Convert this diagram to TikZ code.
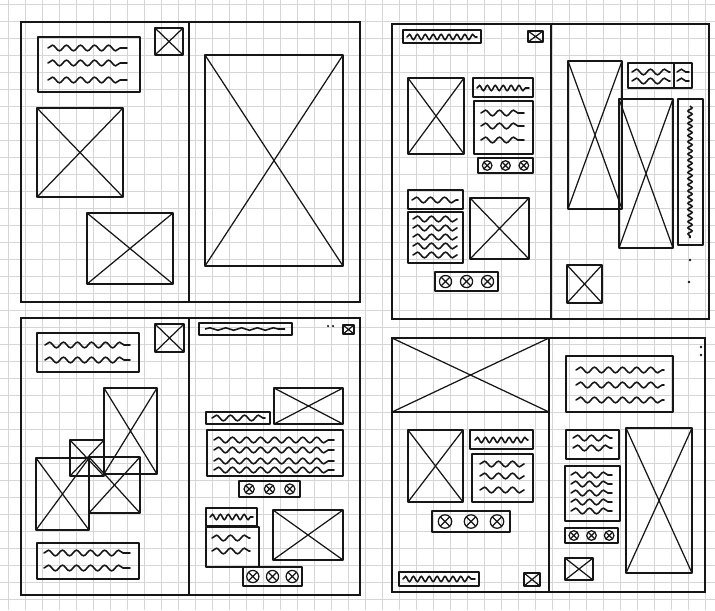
\documentclass[tikz,border=0pt]{standalone}
\usepackage{tikz}
\usetikzlibrary{decorations.pathmorphing}
\definecolor{ink}{HTML}{161616}
\definecolor{paperline}{HTML}{d6d6d6}

\tikzset{
  page/.style={ink, line width=1.3pt},
  frame/.style={ink, line width=1.3pt, line join=round},
  cross/.style={ink, line width=0.7pt},
  scribble/.style={ink, line width=0.9pt, line cap=round, decorate,
                   decoration={snake, amplitude=1.6pt, segment length=8pt}},
  handwrite/.style={ink, line width=0.9pt, line cap=round, decorate,
                   decoration={snake, amplitude=1.5pt, segment length=4.5pt}},
  gridline/.style={paperline, line width=0.5pt}
}

% image placeholder: box with diagonals
\newcommand{\imgbox}[4]{%
  \draw[frame] (#1,#2) rectangle (#3,#4);
  \draw[cross] (#1,#2) -- (#3,#4) (#1,#4) -- (#3,#2);}
% bar with three round buttons
\newcommand{\btnbar}[4]{%
  \draw[frame] (#1,#2) rectangle (#3,#4);
  \foreach \k in {1,3,5} {
    \pgfmathsetmacro{\cx}{#1+(#3-#1)*\k/6}
    \pgfmathsetmacro{\cy}{(#2+#4)/2}
    \pgfmathsetmacro{\rr}{(#4-#2)*0.32}
    \pgfmathsetmacro{\dd}{\rr*0.7}
    \draw[cross] (\cx,\cy) circle[radius=\rr];
    \draw[cross] (\cx-\dd,\cy-\dd) -- (\cx+\dd,\cy+\dd) (\cx-\dd,\cy+\dd) -- (\cx+\dd,\cy-\dd);
  }}

\begin{document}
\begin{tikzpicture}[x=0.02cm, y=-0.02cm]
  \useasboundingbox (0,0) rectangle (715,610);
  \fill[white] (0,0) rectangle (715,610);

  % Grid paper
  \foreach \gx in {8,25,...,715} \draw[gridline] (\gx,0) -- (\gx,610);
  \foreach \gy in {4,21,...,610} \draw[gridline] (0,\gy) -- (715,\gy);

  % ---- Spread 1 (top left)
  \draw[page] (21,22) rectangle (360,302);
  \draw[page] (189,22) -- (189,302);
  \draw[frame] (38,37) rectangle (140,92);
  \foreach \y in {48,63,80} \draw[scribble] (48,\y) -- (127,\y);
  \imgbox{155}{28}{183}{55}
  \imgbox{37}{108}{123}{197}
  \imgbox{87}{213}{173}{284}
  \imgbox{205}{55}{343}{266}

  % ---- Spread 2 (top right)
  \draw[page] (392,24) rectangle (709,319);
  \draw[page] (551,24) -- (551,319);
  \draw[frame] (403,30) rectangle (481,43);
  \draw[handwrite] (407,37) -- (477,37);
  \imgbox{528}{31}{543}{42}
  \imgbox{408}{78}{464}{154}
  \draw[frame] (473,78) rectangle (533,97);
  \draw[handwrite] (477,88) -- (529,88);
  \draw[frame] (474,101) rectangle (533,154);
  \foreach \y in {113,126,140} \draw[scribble] (481,\y) -- (524,\y);
  \btnbar{478}{158}{533}{173}
  \draw[frame] (408,190) rectangle (463,209);
  \draw[scribble] (412,200) -- (458,200);
  \draw[frame] (408,212) rectangle (463,263);
  \foreach \y in {219,228,237,246,255} \draw[scribble] (413,\y) -- (457,\y);
  \imgbox{470}{198}{529}{259}
  \btnbar{435}{272}{498}{291}
  % right page
  \imgbox{568}{61}{622}{209}
  \draw[frame] (628,63) rectangle (692,88);
  \draw[frame] (674,63) -- (674,88);
  \foreach \y in {72,81} {
    \draw[scribble] (632,\y) -- (670,\y);
    \draw[scribble] (677,\y) -- (689,\y);
  }
  \imgbox{619}{99}{673}{248}
  \draw[frame] (678,99) rectangle (703,245);
  \draw[ink, line width=0.9pt, decorate, decoration={snake, amplitude=1.2pt, segment length=3.5pt}] (690,106) -- (690,238);
  \imgbox{567}{265}{602}{303}
  \fill[ink] (690,260) circle[radius=0.8pt] (689,282) circle[radius=0.8pt];

  % ---- Spread 3 (bottom left)
  \draw[page] (21,318) rectangle (360,595);
  \draw[page] (189,318) -- (189,595);
  \draw[frame] (37,333) rectangle (139,372);
  \foreach \y in {345,360} \draw[scribble] (45,\y) -- (130,\y);
  \imgbox{155}{324}{184}{352}
  \imgbox{104}{388}{157}{474}
  \imgbox{70}{440}{104}{476}
  \imgbox{89}{457}{140}{513}
  \imgbox{36}{458}{89}{530}
  \draw[frame] (37,543) rectangle (139,579);
  \foreach \y in {553,568} \draw[scribble] (44,\y) -- (130,\y);
  % right page
  \draw[frame] (199,323) rectangle (292,335);
  \draw[ink, line width=0.9pt, decorate, decoration={snake, amplitude=0.7pt, segment length=9pt}] (205,329) -- (285,329);
  \imgbox{343}{325}{354}{334}
  \fill[ink] (328,326) circle[radius=0.7pt] (333,326) circle[radius=0.7pt];
  \draw[frame] (206,412) rectangle (270,424);
  \draw[scribble] (212,418) -- (265,418);
  \imgbox{274}{388}{343}{424}
  \draw[frame] (207,430) rectangle (343,476);
  \foreach \y in {440,450,461,470} \draw[scribble] (214,\y) -- (334,\y);
  \btnbar{239}{481}{300}{497}
  \draw[frame] (206,508) rectangle (257,526);
  \draw[handwrite] (210,517) -- (253,517);
  \draw[frame] (206,527) rectangle (259,567);
  \foreach \y in {538,551} \draw[scribble] (212,\y) -- (250,\y);
  \imgbox{273}{510}{343}{560}
  \btnbar{243}{567}{302}{586}

  % ---- Spread 4 (bottom right)
  \draw[page] (392,338) rectangle (705,592);
  \draw[page] (549,338) -- (549,592);
  \imgbox{392}{338}{549}{412}
  \imgbox{408}{430}{463}{502}
  \draw[frame] (470,430) rectangle (533,449);
  \draw[handwrite] (475,440) -- (528,440);
  \draw[frame] (472,454) rectangle (533,502);
  \foreach \y in {464,476,490} \draw[scribble] (480,\y) -- (524,\y);
  \btnbar{432}{511}{510}{532}
  \draw[frame] (399,572) rectangle (479,586);
  \draw[handwrite] (403,579) -- (475,579);
  \imgbox{524}{573}{540}{586}
  % right page
  \draw[frame] (566,356) rectangle (673,412);
  \foreach \y in {370,385,400} \draw[scribble] (576,\y) -- (664,\y);
  \draw[frame] (566,430) rectangle (619,459);
  \foreach \y in {438,448} \draw[scribble] (573,\y) -- (612,\y);
  \draw[frame] (565,466) rectangle (620,521);
  \foreach \y in {475,484,493,502,511} \draw[scribble] (571,\y) -- (612,\y);
  \btnbar{565}{528}{618}{543}
  \imgbox{565}{558}{593}{580}
  \imgbox{626}{428}{692}{573}
  \fill[ink] (701,347) circle[radius=0.8pt] (701,355) circle[radius=0.8pt];
\end{tikzpicture}
\end{document}
